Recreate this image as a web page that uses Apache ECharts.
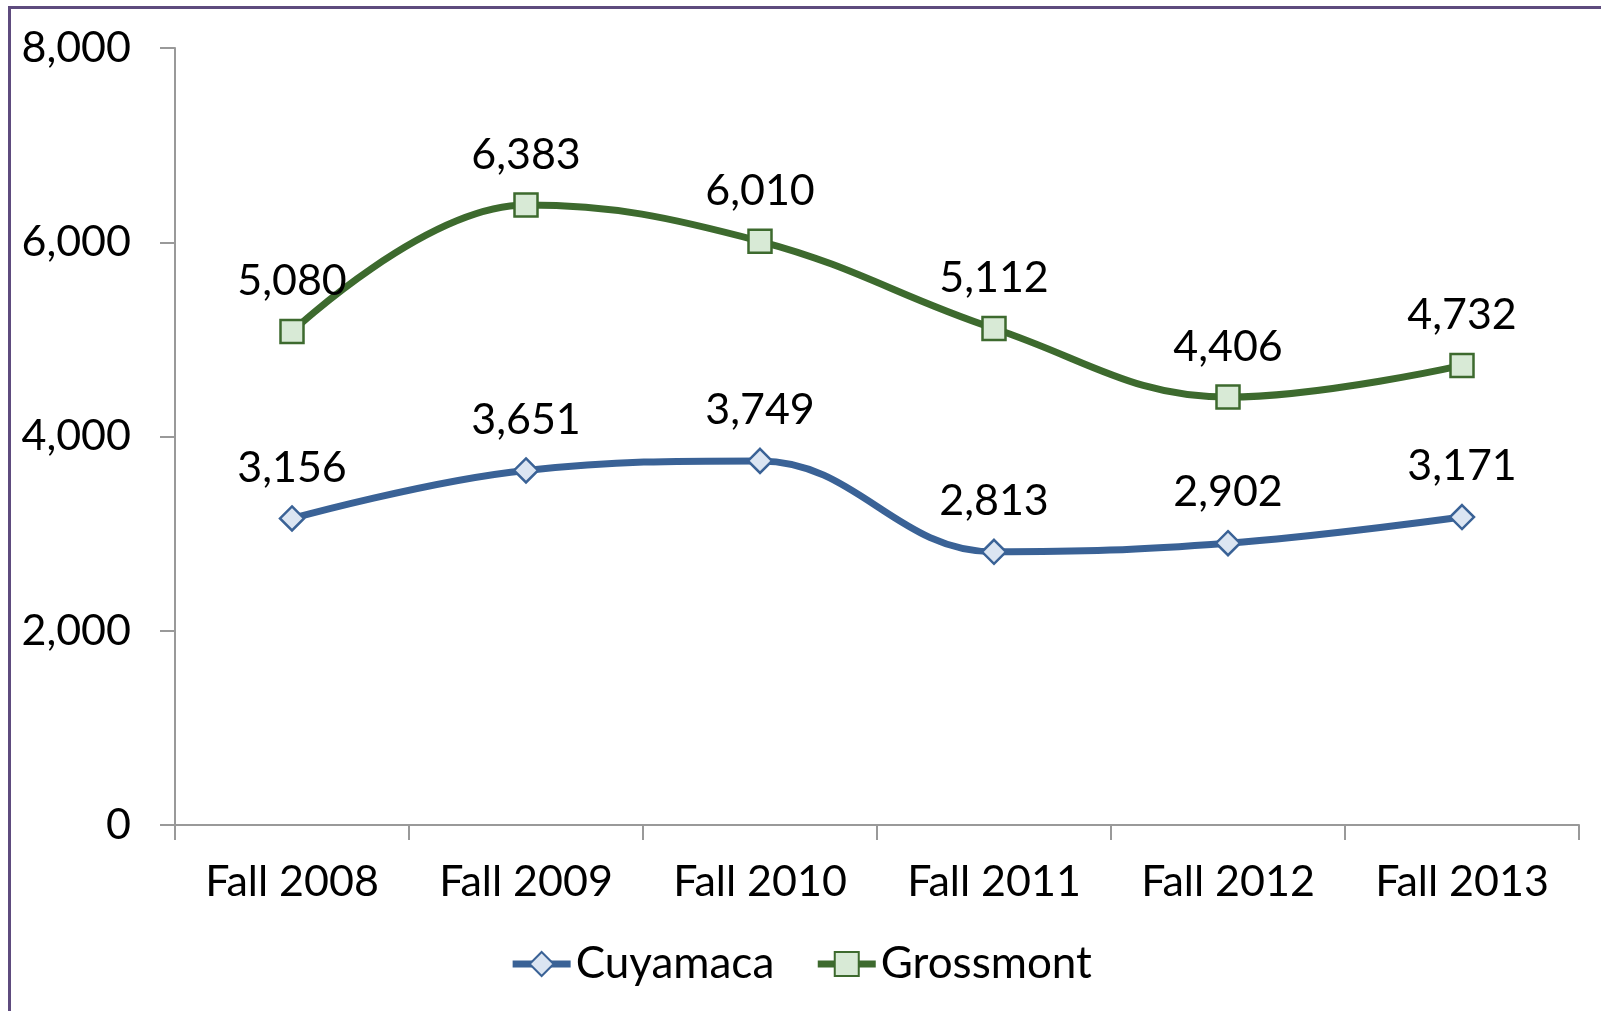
<!DOCTYPE html>
<html>
<head>
<meta charset="utf-8">
<script src="https://cdn.jsdelivr.net/npm/echarts@6/dist/echarts.min.js"></script>
<style>
  html, body { margin: 0; padding: 0; background: #fff; }
  #frame {
    position: absolute; left: 8px; top: 6px; width: 1700px; height: 1100px;
    border-top: 3px solid #5e4b7e; border-left: 3px solid #5e4b7e;
  }
  #chart-container { position: absolute; left: 0; top: 0; width: 1601px; height: 1011px; }
</style>
</head>
<body>
<div id="frame"></div>
<div id="chart-container"></div>
<script>
var terms = ['Fall 2008', 'Fall 2009', 'Fall 2010', 'Fall 2011', 'Fall 2012', 'Fall 2013'];
var cuyamaca = [3156, 3651, 3749, 2813, 2902, 3171];
var grossmont = [5080, 6383, 6010, 5112, 4406, 4732];
var yTicks = [0, 2000, 4000, 6000, 8000];

var font = 'Lato, "Noto Sans", sans-serif';
var fs = 43;

var dom = document.getElementById('chart-container');
var myChart = echarts.init(dom, null, { renderer: 'canvas' });

var option = {
  animation: false,
  grid: { left: 175, right: 22, top: 48, bottom: 186, containLabel: false },
  legend: {
    bottom: 20,
    left: 'center',
    itemWidth: 58,
    itemHeight: 30,
    itemGap: 40,
    lineStyle: { width: 7 },
    textStyle: { fontFamily: font, fontSize: 44, color: '#000' },
    data: ['Cuyamaca', 'Grossmont']
  },
  xAxis: {
    type: 'category',
    data: terms,
    boundaryGap: true,
    axisLine: { lineStyle: { color: '#999', width: 2 } },
    axisTick: { show: true, length: 15, lineStyle: { color: '#999', width: 2 } },
    axisLabel: { margin: 36, fontFamily: font, fontSize: fs, color: '#000' }
  },
  yAxis: {
    type: 'value',
    min: yTicks[0],
    max: yTicks[yTicks.length - 1],
    interval: 2000,
    splitLine: { show: false },
    axisLine: { show: true, lineStyle: { color: '#999', width: 2 } },
    axisTick: { show: true, length: 15, lineStyle: { color: '#999', width: 2 } },
    axisLabel: {
      margin: 44, fontFamily: font, fontSize: fs, color: '#000',
      formatter: function (v) { return v.toLocaleString('en-US'); }
    }
  },
  series: [
    {
      name: 'Cuyamaca',
      type: 'line',
      data: cuyamaca,
      smooth: 0.4,
      symbol: 'diamond',
      symbolSize: 24,
      lineStyle: { color: '#3a6296', width: 7 },
      itemStyle: { color: '#dbe5f2', borderColor: '#3a6296', borderWidth: 2.5 },
      label: {
        show: true, position: 'top', distance: 16,
        fontFamily: font, fontSize: fs, color: '#000',
        formatter: function (p) { return p.value.toLocaleString('en-US'); }
      }
    },
    {
      name: 'Grossmont',
      type: 'line',
      data: grossmont,
      smooth: 0.4,
      symbol: 'rect',
      symbolSize: 23,
      lineStyle: { color: '#3d6a2e', width: 7 },
      itemStyle: { color: '#d8ead6', borderColor: '#3d6a2e', borderWidth: 2.5 },
      label: {
        show: true, position: 'top', distance: 16,
        fontFamily: font, fontSize: fs, color: '#000',
        formatter: function (p) { return p.value.toLocaleString('en-US'); }
      }
    }
  ]
};

myChart.setOption(option);
window.addEventListener('resize', myChart.resize);
</script>
</body>
</html>
